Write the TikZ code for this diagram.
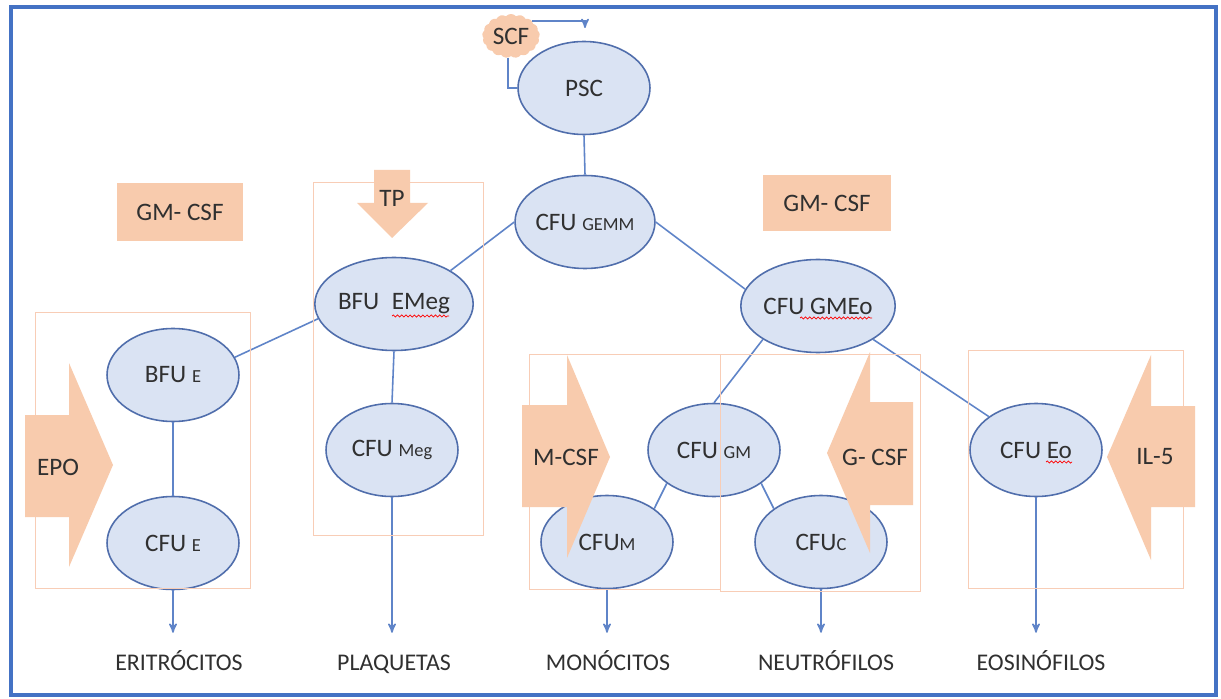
\documentclass[tikz,border=0pt]{standalone}
\usepackage{fontspec}
\setmainfont{Carlito}
\usepackage{tikz}
\usetikzlibrary{shapes.geometric,shapes.symbols,arrows,decorations.pathmorphing}
\usepackage{xcolor}

\definecolor{frameblue}{RGB}{68,114,196}
\definecolor{cellfill}{RGB}{218,227,243}
\definecolor{celldraw}{RGB}{80,110,172}
\definecolor{linkblue}{RGB}{95,132,200}
\definecolor{peach}{RGB}{248,203,173}
\definecolor{zoneline}{RGB}{248,205,182}
\definecolor{ink}{RGB}{48,48,48}

% lineage letters are set smaller than the cell name
\newcommand{\lin}[1]{{\fontsize{10.5}{12}\selectfont #1}}

\begin{document}
\begin{tikzpicture}[x=0.02cm,y=-0.02cm,
  every node/.style={text=ink,font=\fontsize{14.3}{16}\selectfont},
  cell/.style={ellipse,draw=celldraw,fill=cellfill,line width=0.9pt,minimum width=2.64cm,minimum height=1.86cm,inner sep=0pt},
  link/.style={draw=linkblue,line width=0.9pt},
  factor/.style={fill=peach},
  zone/.style={draw=zoneline,line width=0.5pt},
  wave/.style={draw=red,line width=0.4pt,decorate,decoration={snake,amplitude=0.6pt,segment length=2.4pt}},
  outcome/.style={anchor=base,font=\fontsize{13.6}{16}\selectfont,text height=10pt,text depth=2pt,inner xsep=0pt,inner ysep=11pt},
  >=stealth']
 \useasboundingbox (0,0) rectangle (1221,699);
 \fill[white] (0,0) rectangle (1221,699);
 \draw[frameblue,line width=2.3pt] (11,7) rectangle (1216,695);

 % cells
 \node[cell] (psc) at (584,88) {PSC};
 \node[cell] (gemm) at (585,222) {CFU \lin{GEMM}};
 \node[cell] (emeg) at (394,304) {BFU\enspace EMeg};
 \node[cell] (gmeo) at (818,306) {CFU GMEo};
 \node[cell] (bfue) at (173,375) {BFU \lin{E}};
 \node[cell] (cfue) at (173,543) {CFU \lin{E}};
 \node[cell] (meg) at (392,450) {CFU \lin{Meg}};
 \node[cell] (cfugm) at (714,450) {CFU \lin{GM}};
 \node[cell] (cfum) at (607,542) {CFU\lin{M}};
 \node[cell] (cfuc) at (821,542) {CFU\lin{C}};
 \node[cell] (eo) at (1036,450) {CFU Eo};

 % spell marks under the lineage names
 \draw[wave] ([shift={(-2,12)}]emeg.center) -- ([shift={(55,12)}]emeg.center);
 \draw[wave] ([shift={(-18,12)}]gmeo.center) -- ([shift={(54,12)}]gmeo.center);
 \draw[wave] ([shift={(10,12)}]eo.center) -- ([shift={(36,12)}]eo.center);

 % SCF loop
 \node[cloud,cloud puffs=17,cloud puff arc=95,aspect=1.3,fill=peach,minimum width=1.15cm,minimum height=0.88cm,inner sep=0pt] (scf) at (511,36) {SCF};
 \coordinate (scftip) at (585,28);
 \draw[link,->] (scf.35) -| (scftip);
 \draw[link] (scf.262) |- (psc.west);

 % lineage tree
 \draw[link] (psc.south) -- (gemm.north);
 \draw[link] (gemm.west) -- (emeg.north east);
 \draw[link] (gemm.east) -- (gmeo.167);
 \draw[link] (emeg.191) -- (bfue.16);
 \draw[link] (emeg.south) -- (meg.north);
 \draw[link] (bfue.south) -- (cfue.north);
 \draw[link] (gmeo.south west) -- (cfugm.north);
 \draw[link] (gmeo.south east) -- (eo.north west);
 \draw[link] (cfugm.south west) -- (cfum.north east);
 \draw[link] (cfugm.south east) -- (cfuc.north west);

 % mature cells
 \node[outcome] (eri) at (179,670) {ERITRÓCITOS};
 \node[outcome] (plaq) at (394,670) {PLAQUETAS};
 \node[outcome] (mono) at (608,670) {MONÓCITOS};
 \node[outcome] (neut) at (826,670) {NEUTRÓFILOS};
 \node[outcome] (eosi) at (1041,670) {EOSINÓFILOS};
 \draw[link,->] (cfue.south) -- (cfue.south |- eri.north);
 \draw[link,->] (meg.south) -- (meg.south |- plaq.north);
 \draw[link,->] (cfum.south) -- (cfum.south |- mono.north);
 \draw[link,->] (cfuc.south) -- (cfuc.south |- neut.north);
 \draw[link,->] (eo.south) -- (eo.south |- eosi.north);

 % compartments
 \draw[zone] (35,312) rectangle (250,588);
 \draw[zone] (313,182) rectangle (483,535);
 \draw[zone] (529,354) rectangle (720,589);
 \draw[zone] (720,354) rectangle (920,591);
 \draw[zone] (968,350) rectangle (1183,588);

 % growth factors
 \node[factor,minimum width=2.52cm,minimum height=1.16cm] (gmcsfa) at (180,212) {GM- CSF};
 \node[factor,minimum width=2.56cm,minimum height=1.12cm] (gmcsfb) at (827,203) {GM- CSF};

 \fill[factor] (374,170) -- (410,170) -- (410,203) -- (428,203) -- (392,238) -- (357,203) -- (374,203) -- cycle;
 \node (tp) at (392,198) {TP};

 \fill[factor] (25,415) -- (69,415) -- (69,363) -- (113,465) -- (69,567) -- (69,517) -- (25,517) -- cycle;
 \node (epo) at (58,467) {EPO};

 \fill[factor] (522,405) -- (567,405) -- (567,355) -- (610,457) -- (567,558) -- (567,507) -- (522,507) -- cycle;
 \node (mcsf) at (566,457) {M-CSF};

 \fill[factor] (913,402) -- (870,402) -- (870,352) -- (827,453) -- (870,553) -- (870,505) -- (913,505) -- cycle;
 \node (gcsf) at (875,457) {G- CSF};

 \fill[factor] (1195,406) -- (1151,406) -- (1151,355) -- (1107,457) -- (1151,560) -- (1151,507) -- (1195,507) -- cycle;
 \node (il5) at (1155,457) {IL-5};
\end{tikzpicture}
\end{document}
